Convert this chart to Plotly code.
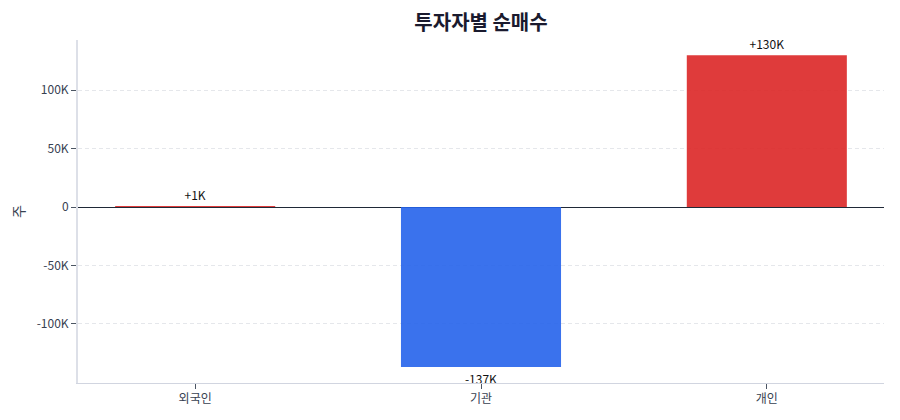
import plotly.graph_objects as go

investors = ['외국인', '기관', '개인']
net_buy = [700, -137000, 130000]
labels = ['+1K', '-137K', '+130K']

colors = ['#dc2626' if v >= 0 else '#2563eb' for v in net_buy]

fig = go.Figure(go.Bar(
    x=investors, y=net_buy,
    marker=dict(color=colors, opacity=0.9, line=dict(width=0)),
    width=0.56,
    text=labels, textposition='outside', cliponaxis=False,
    textfont=dict(size=12, color='#111111'),
    hoverinfo='skip',
))

# page body has an 8px margin, so the margins are shifted to compensate
fig.update_layout(
    width=900, height=420,
    title=dict(text='<b>투자자별 순매수</b>', x=0.5, xref='paper', xanchor='center',
               y=0.982, yanchor='top',
               font=dict(size=20, color='#1a1a2e')),
    font=dict(family='Noto Sans CJK KR', size=12, color='#374151'),
    plot_bgcolor='white', paper_bgcolor='white',
    margin=dict(l=70, r=24, t=32, b=45),
    showlegend=False,
    xaxis=dict(range=[-0.41, 2.41], showline=True, linecolor='#d1d5e0', linewidth=1,
               ticks='outside', tickcolor='#4b5563', ticklen=5, showgrid=False,
               automargin=False),
    yaxis=dict(title=dict(text='주'), automargin=False,
               range=[min(net_buy) * 1.1, max(net_buy) * 1.1],
               tickvals=[-100000, -50000, 0, 50000, 100000],
               ticktext=['-100K', '-50K', '0', '50K', '100K'],
               showline=True, linecolor='#dde0e8', linewidth=2,
               ticks='outside', tickcolor='#4b5563', ticklen=5,
               gridcolor='#e5e7eb', griddash='4px,3px',
               zeroline=True, zerolinecolor='#1f2937', zerolinewidth=1.2),
)

fig.write_html('out.html')
